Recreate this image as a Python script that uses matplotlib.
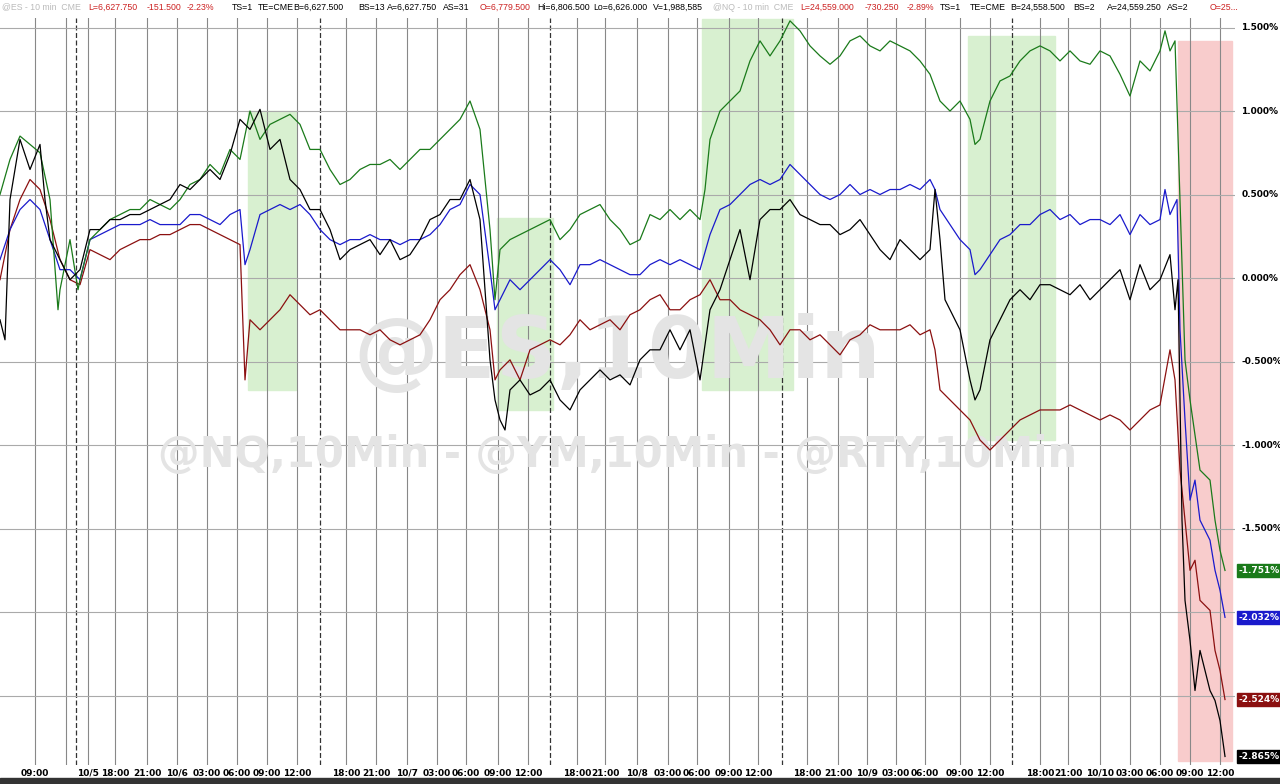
import matplotlib
matplotlib.use("Agg")
import matplotlib.pyplot as plt
from matplotlib.patches import Rectangle

# x in trading hours from chart start
tick_pos = [3.5, 8.8, 11.5, 14.7, 17.7, 20.7, 23.7, 26.7, 29.7, 34.6, 37.6, 40.7, 43.7, 46.6, 49.8, 52.8,
            57.7, 60.5, 63.7, 66.8, 69.7, 72.9, 75.8, 80.7, 83.8, 86.7, 89.6, 92.5, 96.0, 99.0,
            104.0, 106.8, 110.0, 113.0, 116.0, 119.0, 122.0]
tick_lab = ["09:00", "10/5", "18:00", "21:00", "10/6", "03:00", "06:00", "09:00", "12:00",
            "18:00", "21:00", "10/7", "03:00", "06:00", "09:00", "12:00",
            "18:00", "21:00", "10/8", "03:00", "06:00", "09:00", "12:00",
            "18:00", "21:00", "10/9", "03:00", "06:00", "09:00", "12:00",
            "18:00", "21:00", "10/10", "03:00", "06:00", "09:00", "12:00"]
session_breaks = [7.6, 32.0, 55.0, 78.2, 101.2]
extra_lines = [6.6]

green_x = [0,1,2,3,4,5,5.8,6,7,7.8,8,9,10,11,12,13,14,15,16,17,18,19,20,21,22,23,24,25,26,27,28,29,30,31,32,33,34,35,36,37,38,39,40,41,42,43,44,45,46,47,48,49,49.5,50,51,52,53,54,55,56,57,58,59,60,61,62,63,64,65,66,67,68,69,70,70.5,71,72,73,74,75,76,77,78,79,80,81,82,83,84,85,86,87,88,89,90,91,92,93,94,95,96,97,97.5,98,99,100,101,102,103,104,105,106,107,108,109,110,111,112,113,114,115,116,116.5,117,117.5,118,118.5,119,120,121,121.5,122,122.5]
green_y = [0.50,0.71,0.85,0.80,0.75,0.47,-0.19,-0.07,0.23,-0.07,-0.01,0.23,0.29,0.35,0.38,0.41,0.41,0.47,0.44,0.41,0.47,0.56,0.59,0.68,0.62,0.77,0.71,1.00,0.83,0.92,0.95,0.98,0.92,0.77,0.77,0.65,0.56,0.59,0.65,0.68,0.68,0.71,0.65,0.71,0.77,0.77,0.83,0.89,0.95,1.06,0.89,0.29,-0.13,0.17,0.23,0.26,0.29,0.32,0.35,0.23,0.29,0.38,0.41,0.44,0.35,0.29,0.20,0.23,0.38,0.35,0.41,0.35,0.41,0.35,0.53,0.83,1.00,1.06,1.12,1.30,1.42,1.33,1.42,1.54,1.48,1.39,1.33,1.28,1.33,1.42,1.45,1.39,1.36,1.42,1.39,1.36,1.30,1.22,1.06,1.00,1.06,0.95,0.80,0.83,1.06,1.18,1.21,1.30,1.36,1.39,1.36,1.30,1.36,1.30,1.28,1.36,1.33,1.22,1.09,1.30,1.24,1.36,1.48,1.36,1.42,0.47,-0.49,-0.73,-1.15,-1.21,-1.45,-1.63,-1.751]

blue_x = [0,1,2,3,4,5,6,7,8,9,10,11,12,13,14,15,16,17,18,19,20,21,22,23,24,24.5,25,26,27,28,29,30,31,32,33,34,35,36,37,38,39,40,41,42,43,44,45,46,47,48,49,49.5,50,51,52,53,54,55,56,57,58,59,60,61,62,63,64,65,66,67,68,69,70,71,72,73,74,75,76,77,78,79,80,81,82,83,84,85,86,87,88,89,90,91,92,93,93.5,94,95,96,97,97.5,98,99,100,101,102,103,104,105,106,107,108,109,110,111,112,113,114,115,116,116.5,117,117.7,118,118.5,119,119.5,120,121,121.5,122,122.5]
blue_y = [0.11,0.29,0.41,0.47,0.41,0.23,0.05,0.05,-0.01,0.23,0.26,0.29,0.32,0.32,0.32,0.35,0.32,0.32,0.32,0.38,0.38,0.35,0.32,0.38,0.41,0.08,0.17,0.38,0.41,0.44,0.41,0.44,0.38,0.29,0.23,0.20,0.23,0.23,0.26,0.23,0.23,0.20,0.23,0.23,0.26,0.32,0.41,0.44,0.56,0.50,0.05,-0.19,-0.13,-0.01,-0.07,-0.01,0.05,0.11,0.05,-0.04,0.08,0.08,0.11,0.08,0.05,0.02,0.02,0.08,0.11,0.08,0.11,0.08,0.05,0.26,0.41,0.44,0.50,0.56,0.59,0.56,0.59,0.68,0.62,0.56,0.50,0.47,0.50,0.56,0.50,0.53,0.50,0.53,0.53,0.56,0.53,0.59,0.53,0.41,0.32,0.23,0.17,0.02,0.05,0.14,0.23,0.26,0.32,0.32,0.38,0.41,0.35,0.38,0.32,0.35,0.35,0.32,0.38,0.26,0.38,0.32,0.35,0.53,0.38,0.47,-0.31,-0.85,-1.33,-1.21,-1.45,-1.57,-1.75,-1.87,-2.032]

black_x = [0,0.5,1,2,3,4,4.5,5,6,7,8,9,10,11,12,13,14,15,16,17,18,19,20,21,22,23,24,25,26,27,28,29,30,31,32,33,34,35,36,37,38,39,40,41,42,43,44,45,46,47,48,49,49.5,50,50.5,51,52,53,54,55,56,57,58,59,60,61,62,63,64,65,66,67,68,69,70,71,72,73,74,75,76,77,78,79,80,81,82,83,84,85,86,87,88,89,90,91,92,93,93.5,94,94.5,95,96,97,97.5,98,99,100,101,102,103,104,105,106,107,108,109,110,111,112,113,114,115,116,117,117.5,117.8,118.2,118.5,119,119.5,120,121,121.5,122,122.5]
black_y = [-0.25,-0.37,0.47,0.83,0.65,0.80,0.47,0.23,0.11,-0.01,0.05,0.29,0.29,0.35,0.35,0.38,0.38,0.41,0.44,0.47,0.56,0.53,0.59,0.65,0.59,0.74,0.95,0.89,1.01,0.77,0.83,0.59,0.53,0.41,0.41,0.29,0.11,0.17,0.20,0.23,0.14,0.23,0.11,0.14,0.23,0.35,0.38,0.47,0.47,0.59,0.35,-0.49,-0.73,-0.85,-0.91,-0.67,-0.61,-0.70,-0.67,-0.61,-0.73,-0.79,-0.67,-0.61,-0.55,-0.61,-0.58,-0.64,-0.49,-0.43,-0.43,-0.31,-0.43,-0.31,-0.61,-0.19,-0.07,0.11,0.29,-0.01,0.35,0.41,0.41,0.47,0.38,0.35,0.32,0.32,0.26,0.29,0.35,0.26,0.17,0.11,0.23,0.17,0.11,0.17,0.53,0.23,-0.13,-0.19,-0.31,-0.61,-0.73,-0.67,-0.37,-0.25,-0.13,-0.07,-0.13,-0.04,-0.04,-0.07,-0.10,-0.04,-0.13,-0.07,-0.01,0.05,-0.13,0.08,-0.07,-0.01,0.14,-0.19,-0.01,-1.45,-1.93,-2.17,-2.47,-2.23,-2.47,-2.53,-2.65,-2.865]

red_x = [0,1,2,3,4,5,6,7,8,9,10,11,12,13,14,15,16,17,18,19,20,21,22,23,24,24.5,25,26,27,28,29,30,31,32,33,34,35,36,37,38,39,40,41,42,43,44,45,46,47,48,49,49.5,50,51,52,53,54,55,56,57,58,59,60,61,62,63,64,65,66,67,68,69,70,71,72,73,74,75,76,77,78,79,80,81,82,83,84,85,86,87,88,89,90,91,92,93,93.5,94,95,96,97,98,99,100,101,102,103,104,105,106,107,108,109,110,111,112,113,114,115,116,117,117.5,118,118.5,119,119.5,120,121,121.5,122,122.5]
red_y = [-0.01,0.29,0.47,0.59,0.53,0.35,0.11,-0.01,-0.04,0.17,0.14,0.11,0.17,0.20,0.23,0.23,0.26,0.26,0.29,0.32,0.32,0.29,0.26,0.23,0.20,-0.61,-0.25,-0.31,-0.25,-0.19,-0.10,-0.16,-0.22,-0.19,-0.25,-0.31,-0.31,-0.31,-0.34,-0.31,-0.37,-0.40,-0.37,-0.34,-0.25,-0.13,-0.07,0.02,0.08,-0.07,-0.31,-0.61,-0.55,-0.49,-0.61,-0.43,-0.40,-0.37,-0.40,-0.34,-0.25,-0.31,-0.28,-0.25,-0.31,-0.22,-0.19,-0.13,-0.10,-0.19,-0.19,-0.13,-0.10,-0.01,-0.13,-0.13,-0.19,-0.22,-0.25,-0.31,-0.40,-0.31,-0.31,-0.37,-0.34,-0.40,-0.46,-0.37,-0.34,-0.28,-0.31,-0.31,-0.31,-0.28,-0.34,-0.31,-0.43,-0.67,-0.73,-0.79,-0.85,-0.97,-1.03,-0.97,-0.91,-0.85,-0.82,-0.79,-0.79,-0.79,-0.76,-0.79,-0.82,-0.85,-0.82,-0.85,-0.91,-0.85,-0.79,-0.76,-0.43,-0.61,-1.15,-1.45,-1.75,-1.69,-1.93,-1.99,-2.23,-2.35,-2.524]

green_zones = [(24.8, 29.6, -0.67, 1.00), (49.7, 55.3, -0.79, 0.36), (70.2, 79.3, -0.67, 1.55), (96.8, 105.5, -0.97, 1.45)]
red_zone = (117.8, 123.2, -2.89, 1.42)

header = [("@ES - 10 min  CME", "#bbbbbb", 2), ("L=6,627.750", "#cc2222", 88), ("-151.500", "#cc2222", 147),
          ("-2.23%", "#cc2222", 187), ("TS=1", "black", 232), ("TE=CME", "black", 258),
          ("B=6,627.500", "black", 293), ("BS=13", "black", 358), ("A=6,627.750", "black", 387),
          ("AS=31", "black", 443), ("O=6,779.500", "#cc2222", 480), ("Hi=6,806.500", "black", 537),
          ("Lo=6,626.000", "black", 593), ("V=1,988,585", "black", 653), ("@NQ - 10 min  CME", "#bbbbbb", 713),
          ("L=24,559.000", "#cc2222", 800), ("-730.250", "#cc2222", 865), ("-2.89%", "#cc2222", 907),
          ("TS=1", "black", 940), ("TE=CME", "black", 970), ("B=24,558.500", "black", 1010),
          ("BS=2", "black", 1073), ("A=24,559.250", "black", 1107), ("AS=2", "black", 1167),
          ("O=25...", "#cc2222", 1210)]

fig = plt.figure(figsize=(12.8, 7.84), dpi=100)
fig.patch.set_facecolor("white")
ax = fig.add_axes([0, 19/784, 1235/1280, 747/784])
ax.set_xlim(0, 123.5)
ax.set_ylim(-2.916, 1.557)

for x0, x1, y0, y1 in green_zones:
    ax.add_patch(Rectangle((x0, y0), x1 - x0, y1 - y0, color="#d8f0d0", zorder=0))
x0, x1, y0, y1 = red_zone
ax.add_patch(Rectangle((x0, y0), x1 - x0, y1 - y0, color="#f8cccc", zorder=0))

for t in tick_pos + extra_lines:
    ax.axvline(t, color="#888888", lw=0.8, zorder=1)
for t in session_breaks:
    ax.axvline(t, color="#333333", lw=0.9, ls=(0, (4, 2)), zorder=1)
yt = [1.5, 1.0, 0.5, 0.0, -0.5, -1.0, -1.5, -2.0, -2.5]
for y in yt:
    ax.axhline(y, color="#aaaaaa", lw=0.8, zorder=1)

ax.text(0.5, 0.549, "@ES,10Min", transform=ax.transAxes, ha="center", va="center",
        fontsize=61, fontweight="bold", color="#e4e4e4", zorder=1)
ax.text(0.5, 0.415, "@NQ,10Min - @YM,10Min - @RTY,10Min", transform=ax.transAxes, ha="center",
        va="center", fontsize=30, fontweight="bold", color="#e4e4e4", zorder=1)

ax.plot(red_x, red_y, color="#8b1010", lw=0.9, zorder=3)
ax.plot(black_x, black_y, color="black", lw=0.9, zorder=4)
ax.plot(blue_x, blue_y, color="#1a1acc", lw=0.9, zorder=3)
ax.plot(green_x, green_y, color="#1a7a1a", lw=0.9, zorder=3)

ax.set_xticks([]); ax.set_yticks([])
for s in ax.spines.values():
    s.set_visible(False)

badges = [(green_y[-1], "#1a7a1a"), (blue_y[-1], "#1a1acc"), (red_y[-1], "#8b1010"), (black_y[-1], "black")]
for y in yt:
    if any(abs(y - v) < 0.06 for v, _ in badges):
        continue
    ax.text(1.005, (y + 2.916) / 4.473, f"{y:.3f}%", transform=ax.transAxes, fontsize=6.5,
            fontweight="bold", va="center", ha="left", zorder=1)
for v, c in badges:
    ax.text(1.003, (v + 2.916) / 4.473, f"{v:.3f}%", transform=ax.transAxes, fontsize=6.5,
            fontweight="bold", va="center", ha="left", color="white", zorder=5,
            bbox=dict(boxstyle="square,pad=0.2", fc=c, ec=c))

for t, l in zip(tick_pos, tick_lab):
    fig.text(t * 10 / 1280, 11 / 784, l, ha="center", va="center", fontsize=6.5, fontweight="bold")
fig.add_artist(Rectangle((0, 0), 1, 6 / 784, transform=fig.transFigure, color="#333333"))

for t, c, x in header:
    fig.text(x / 1280, 1 - 7 / 784, t, color=c, fontsize=6.3, va="center", ha="left",
             family="Liberation Sans")

fig.savefig("out.png", dpi=100)
